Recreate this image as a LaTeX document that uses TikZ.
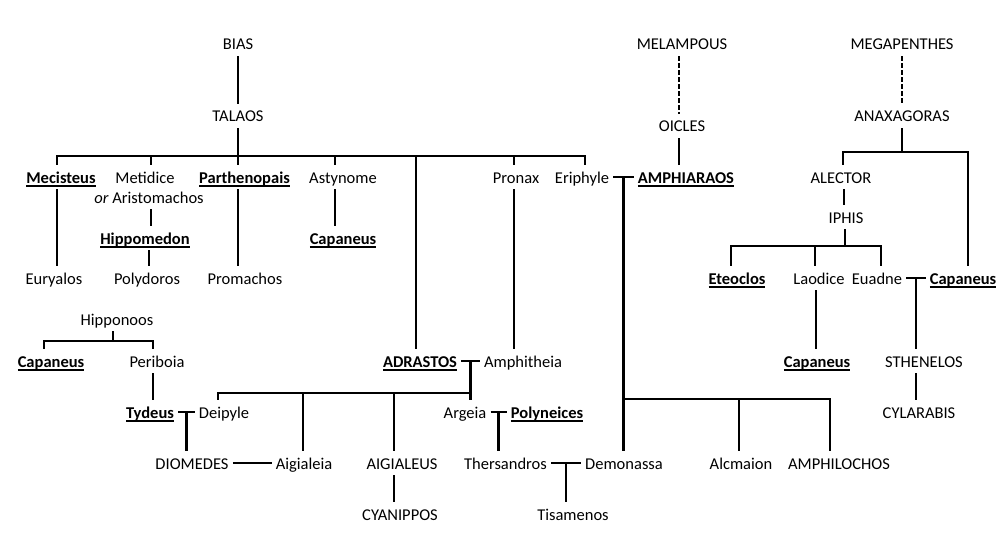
\documentclass[tikz,border=0pt]{standalone}
\usepackage{fontspec}
\setmainfont{Carlito}
\usetikzlibrary{calc}
\newsavebox\herobox
\newcommand\hero[1]{\sbox\herobox{\bfseries #1}\rlap{\rule[-3.8pt]{\wd\herobox}{1.7pt}}\usebox\herobox}
\begin{document}
\begin{tikzpicture}[x=1pt,y=-1pt,line width=2.5pt,
  p/.style={font=\fontsize{16.5}{19}\selectfont,inner xsep=3pt,inner ysep=3pt,text height=14pt,text depth=2pt},
  dashline/.style={dash pattern=on 4.5pt off 2.5pt}]
\useasboundingbox (0,0) rectangle (1000,556);
\begin{scope}[every node/.style={p}]
\node (bias) at (238,44) {BIAS};
\node (talaos) at (238,116) {TALAOS};
\node (mec) at (61,177) {\hero{Mecisteus}};
\node (meti) at (145,177) {Metidice};
\node (arist) at (149,197) {\textit{or} Aristomachos};
\node (parth) at (244.5,177) {\hero{Parthenopais}};
\node (asty) at (343,177) {Astynome};
\node (pronax) at (516,177) {Pronax};
\node (eri) at (582,177) {Eriphyle};
\node (amphi) at (686,177) {\hero{AMPHIARAOS}};
\node (hippo) at (145,238) {\hero{Hippomedon}};
\node (capa1) at (343,238) {\hero{Capaneus}};
\node (eury) at (54,278) {Euryalos};
\node (poly) at (147,278) {Polydoros};
\node (prom) at (245,278) {Promachos};
\node (hipponoos) at (117,319) {Hipponoos};
\node (capa2) at (51,361) {\hero{Capaneus}};
\node (peri) at (157,361) {Periboia};
\node (adr) at (420,361) {\hero{ADRASTOS}};
\node (amphit) at (523,361) {Amphitheia};
\node (tydeus) at (150,412) {\hero{Tydeus}};
\node (deip) at (224,412) {Deipyle};
\node (argeia) at (465,412) {Argeia};
\node (polyn) at (547,412) {\hero{Polyneices}};
\node (diom) at (192,463) {DIOMEDES};
\node (aigia) at (304,463) {Aigialeia};
\node (aigil) at (402,463) {AIGIALEUS};
\node (thers) at (505.5,463) {Thersandros};
\node (demo) at (624,463) {Demonassa};
\node (alcm) at (741,463) {Alcmaion};
\node (amphil) at (839,463) {AMPHILOCHOS};
\node (cyan) at (400,514) {CYANIPPOS};
\node (tisa) at (573,514) {Tisamenos};
\node (melam) at (682,44) {MELAMPOUS};
\node (oicles) at (682,126) {OICLES};
\node (megap) at (902,44) {MEGAPENTHES};
\node (anax) at (902,116) {ANAXAGORAS};
\node (alector) at (841,177) {ALECTOR};
\node (iphis) at (846,217) {IPHIS};
\node (eteo) at (737,278) {\hero{Eteoclos}};
\node (laod) at (819,278) {Laodice};
\node (euad) at (877,278) {Euadne};
\node (capa3) at (963,278) {\hero{Capaneus}};
\node (capa4) at (817,361) {\hero{Capaneus}};
\node (sthen) at (924,361) {STHENELOS};
\node (cylar) at (919,412) {CYLARABIS};
\end{scope}
% Bias line
\draw (bias.south) -- (bias.south |- talaos.north);
\coordinate (tb) at (238,156);
\draw (talaos.south) -- (tb);
\draw ([xshift=-4pt]mec.north) |- (tb) -| ([xshift=3pt]eri.north);
\draw ([xshift=6pt]meti.north) -- ([xshift=6pt]meti.north |- tb);
\draw ([xshift=-6.5pt]parth.north) -- ([xshift=-6.5pt]parth.north |- tb);
\draw ([xshift=-8pt]asty.north) -- ([xshift=-8pt]asty.north |- tb);
\draw ([xshift=-4pt]adr.north) -- ([xshift=-4pt]adr.north |- tb);
\draw ([xshift=-2pt]pronax.north) -- ([xshift=-2pt]pronax.north |- tb);
\draw ([xshift=2pt]arist.south) -- ([xshift=2pt]arist.south |- hippo.north);
\draw ([xshift=4pt]hippo.south) -- ([xshift=4pt]hippo.south |- poly.north);
\draw ([xshift=-4pt]mec.south) -- ([xshift=-4pt]mec.south |- eury.north);
\draw ([xshift=-6.5pt]parth.south) -- ([xshift=-6.5pt]parth.south |- prom.north);
\draw ([xshift=-8pt]asty.south) -- ([xshift=-8pt]asty.south |- capa1.north);
\draw ([xshift=-2pt]pronax.south) -- ([xshift=-2pt]pronax.south |- amphit.north);
% Eriphyle - Amphiaraos
\draw (eri.east) -- (amphi.west);
\coordinate (ea) at ($(eri.east)!0.5!(amphi.west)$);
\draw (ea) -- (ea |- demo.north);
\path (ea) ++(0,222) coordinate (eb);
\draw (eb) -| ([xshift=-9pt]amphil.north);
\draw ([xshift=-2pt]alcm.north) -- ([xshift=-2pt]alcm.north |- eb);
% Melampous line
\draw[dashline] ([xshift=-3pt]melam.south) -- ([xshift=-3pt]melam.south |- oicles.north);
\draw ([xshift=-3pt]oicles.south) -- ([xshift=-3pt]oicles.south |- amphi.north);
% Megapenthes line
\draw[dashline] (megap.south) -- (anax.north);
\coordinate (ab) at (902,152);
\draw (anax.south) -- (ab);
\draw ([xshift=2pt]alector.north) |- (ab) -| ([xshift=5pt]capa3.north);
\draw ([xshift=3pt]alector.south) -- ([xshift=3pt]alector.south |- iphis.north);
\coordinate (ib) at (845,246);
\draw (ib |- iphis.south) -- (ib);
\draw ([xshift=-6pt]eteo.north) |- (ib) -| ([xshift=4pt]euad.north);
\draw ([xshift=-4pt]laod.north) -- ([xshift=-4pt]laod.north |- ib);
\draw ([xshift=-3pt]laod.south) -- ([xshift=-3pt]laod.south |- capa4.north);
\draw (euad.east) -- (capa3.west);
\coordinate (ec) at ($(euad.east)!0.5!(capa3.west)$);
\draw (ec) -- (ec |- sthen.north);
\draw ([xshift=-8pt]sthen.south) -- ([xshift=-8pt]sthen.south |- cylar.north);
% Hipponoos
\coordinate (hb) at (113,341);
\draw ([xshift=-4pt]hipponoos.south) -- (hb);
\draw ([xshift=-7pt]capa2.north) |- (hb) -| ([xshift=-4pt]peri.north);
\draw ([xshift=-4pt]peri.south) -- ([xshift=-4pt]peri.south |- tydeus.north);
\draw (tydeus.east) -- (deip.west);
\coordinate (tdm) at ($(tydeus.east)!0.5!(deip.west)$);
\draw (tdm) -- (tdm |- diom.north);
\draw (diom.east) -- (aigia.west);
% Adrastos - Amphitheia
\draw (adr.east) -- (amphit.west);
\coordinate (aa) at ($(adr.east)!0.5!(amphit.west)$);
\draw (aa) -- (aa |- argeia.north);
\path (aa) ++(0,32) coordinate (db);
\draw ([xshift=-6pt]deip.north) |- (db);
\draw ([xshift=-1pt]aigia.north) -- ([xshift=-1pt]aigia.north |- db);
\draw ([xshift=-8pt]aigil.north) -- ([xshift=-8pt]aigil.north |- db);
\draw ([xshift=-8pt]aigil.south) -- ([xshift=-8pt]aigil.south |- cyan.north);
% Argeia - Polyneices
\draw (argeia.east) -- (polyn.west);
\coordinate (ap) at ($(argeia.east)!0.5!(polyn.west)$);
\draw (ap) -- (ap |- thers.north);
\draw (thers.east) -- (demo.west);
\coordinate (tdd) at ($(thers.east)!0.5!(demo.west)$);
\draw (tdd) -- (tdd |- tisa.north);
\end{tikzpicture}
\end{document}
